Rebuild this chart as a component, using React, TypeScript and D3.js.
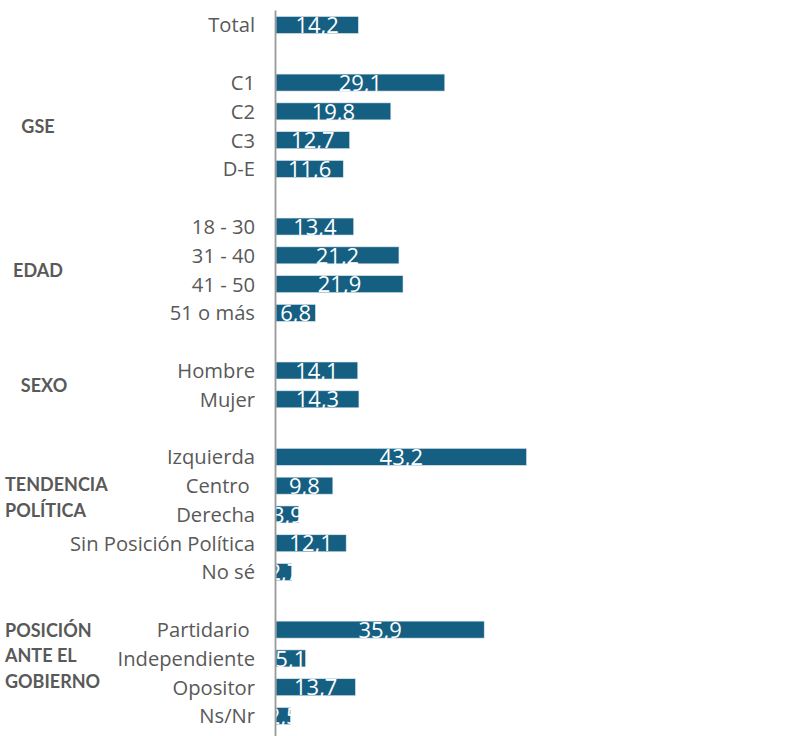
import React from 'react';
import * as d3 from 'd3';

// data
const totalCats = ['Total'];
const totalVals = [14.2];
const gseCats = ['C1', 'C2', 'C3', 'D-E'];
const gseVals = [29.1, 19.8, 12.7, 11.6];
const edadCats = ['18 - 30', '31 - 40', '41 - 50', '51 o más'];
const edadVals = [13.4, 21.2, 21.9, 6.8];
const sexoCats = ['Hombre', 'Mujer'];
const sexoVals = [14.1, 14.3];
const tendCats = ['Izquierda', 'Centro ', 'Derecha', 'Sin Posición Política', 'No sé'];
const tendVals = [43.2, 9.8, 3.9, 12.1, 2.7];
const posCats = ['Partidario ', 'Independiente', 'Opositor', 'Ns/Nr'];
const posVals = [35.9, 5.1, 13.7, 2.5];

const groups = [
  { id: 'total', label: [], cats: totalCats, vals: totalVals },
  { id: 'gse', label: ['GSE'], cats: gseCats, vals: gseVals },
  { id: 'edad', label: ['EDAD'], cats: edadCats, vals: edadVals },
  { id: 'sexo', label: ['SEXO'], cats: sexoCats, vals: sexoVals },
  { id: 'tend', label: ['TENDENCIA', 'POLÍTICA'], cats: tendCats, vals: tendVals },
  { id: 'pos', label: ['POSICIÓN', 'ANTE EL', 'GOBIERNO'], cats: posCats, vals: posVals },
];

const W = 794;
const H = 736;
const barColor = '#156082';
const textColor = '#595959';

export default function App() {
  // rows incl. a blank spacer between groups
  const rows: { key: string; cat: string | null; val: number | null; group: string }[] = [];
  groups.forEach((g, gi) => {
    if (gi > 0) rows.push({ key: 'blank' + gi, cat: null, val: null, group: g.id });
    g.cats.forEach((c, i) => rows.push({ key: g.id + i, cat: c, val: g.vals[i], group: g.id }));
  });

  const y = d3.scaleBand()
    .domain(rows.map(r => r.key))
    .range([10.6, 730.4])
    .paddingInner(0.41)
    .paddingOuter(0.205);

  const x = d3.scaleLinear()
    .domain([0, 50])
    .range([276, 566]);

  const bw = y.bandwidth();
  const fmt = (v: number) => d3.format('.1f')(v).replace('.', ',');
  const center = (k: string) => (y(k) as number) + bw / 2;

  return (
    <svg width={W} height={H} style={{ position: 'absolute', left: 0, top: 0, background: '#fff' }}>
      {rows.filter(r => r.cat !== null).map(r => (
        <g key={r.key}>
          <rect
            x={x(0)}
            y={y(r.key)}
            width={x(r.val as number) - x(0)}
            height={bw}
            fill={barColor}
            stroke="#dbe6ee"
            strokeWidth={0.6}
          />
          <text
            x={(x(0) + x(r.val as number)) / 2}
            y={(y(r.key) as number) + bw - 0.3}
            textAnchor="middle"
            fill="#fff"
            fontFamily="'Open Sans', sans-serif"
            fontSize={22}
          >
            {fmt(r.val as number)}
          </text>
          <text
            x={255}
            y={center(r.key) + 7.4}
            textAnchor="end"
            fill={textColor}
            fontFamily="'Open Sans', sans-serif"
            fontSize={20.2}
            style={{ whiteSpace: 'pre' }}
          >
            {r.cat}
          </text>
        </g>
      ))}

      {groups.filter(g => g.label.length).map(g => {
        const ks = rows.filter(r => r.group === g.id && r.cat !== null).map(r => r.key);
        const mid = d3.mean(ks, k => center(k)) as number;
        const multi = g.label.length > 1;
        const lh = 25.5;
        const c0 = mid + (multi ? -17 : 1) - ((g.label.length - 1) * lh) / 2;
        return (
          <text
            key={g.id}
            fill={textColor}
            fontFamily="Lato, sans-serif"
            fontWeight="bold"
            fontSize={18}
            textAnchor={multi ? 'start' : 'middle'}
          >
            {g.label.map((l, i) => (
              <tspan key={i} x={multi ? 5 : (g.id === 'sexo' ? 44 : 38)} y={c0 + i * lh + 6.5}>{l}</tspan>
            ))}
          </text>
        );
      })}

      <line x1={275.5} x2={275.5} y1={10.6} y2={H} stroke="#999" strokeWidth={1.8} />
    </svg>
  );
}
